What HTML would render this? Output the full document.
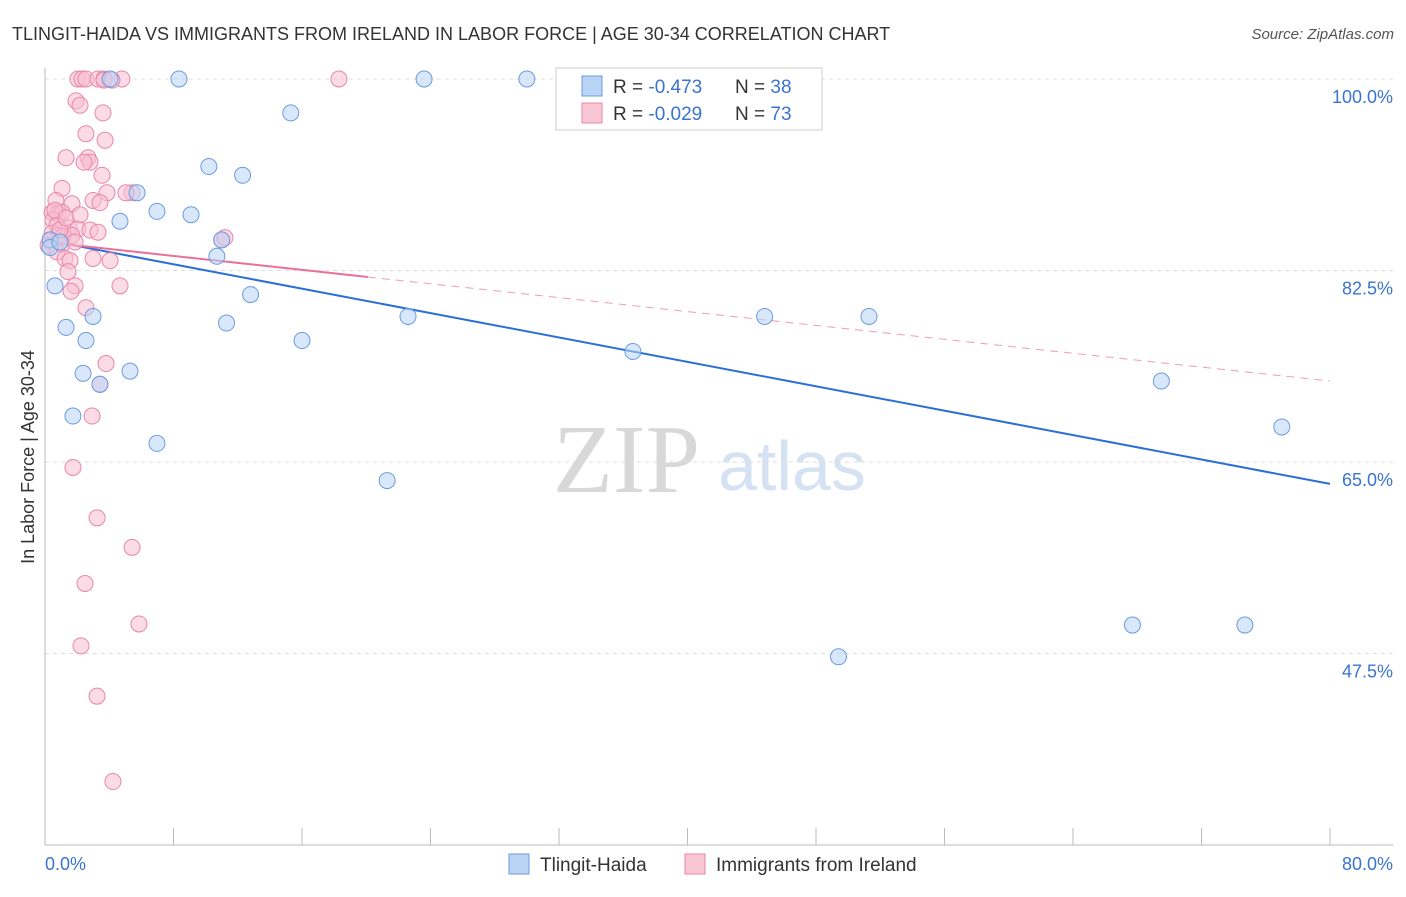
<!DOCTYPE html>
<html><head><meta charset="utf-8"><style>
body{margin:0;background:#fff;font-family:"Liberation Sans",sans-serif;}
</style></head><body>
<svg id="chart" width="1406" height="892" xmlns="http://www.w3.org/2000/svg">
<text x="12" y="40" font-size="18" fill="#333">TLINGIT-HAIDA VS IMMIGRANTS FROM IRELAND IN LABOR FORCE | AGE 30-34 CORRELATION CHART</text>
<text x="1394" y="39" font-size="15" fill="#555" font-style="italic" text-anchor="end">Source: ZipAtlas.com</text>
<g>
<text x="553" y="492" font-size="98" font-family="Liberation Serif,serif" fill="#d8d8d8">ZIP</text>
<text x="718" y="490" font-size="70" fill="#d5e2f3">atlas</text>
</g>
<g id="grid"></g>
<g id="axes"></g>
<g id="lines"></g>
<g id="pts"></g>
<text transform="translate(34,457) rotate(-90)" font-size="18" fill="#333" text-anchor="middle">In Labor Force | Age 30-34</text>
<text x="45" y="870" font-size="18" fill="#3a74d0">0.0%</text>
<text x="1393" y="870" font-size="18" fill="#3a74d0" text-anchor="end">80.0%</text>
<g>
<rect x="556" y="68" width="266" height="62" fill="#fff" stroke="#ccc"/>
<rect x="582" y="76" width="20" height="20" fill="#b9d3f5" stroke="#6a9be0"/>
<rect x="582" y="103" width="20" height="20" fill="#f9c6d6" stroke="#e887a7"/>
<text x="613" y="93" font-size="19" fill="#333">R = <tspan fill="#3a74d0">-0.473</tspan></text>
<text x="735" y="93" font-size="19" fill="#333">N = <tspan fill="#3a74d0">38</tspan></text>
<text x="613" y="120" font-size="19" fill="#333">R = <tspan fill="#3a74d0">-0.029</tspan></text>
<text x="735" y="120" font-size="19" fill="#333">N = <tspan fill="#3a74d0">73</tspan></text>
</g>
<g>
<rect x="509" y="854" width="20" height="20" fill="#b9d3f5" stroke="#6a9be0"/>
<text x="540" y="871" font-size="19" fill="#333">Tlingit-Haida</text>
<rect x="685" y="854" width="20" height="20" fill="#f9c6d6" stroke="#e887a7"/>
<text x="716" y="871" font-size="19" fill="#333">Immigrants from Ireland</text>
</g>
</svg>
<script>
const yTicks=[100,82.5,65,47.5];
const yTickLabels=["100.0%","82.5%","65.0%","47.5%"];
const xTicks=[0,10,20,30,40,50,60,70,80,90,100];
const blueX=[4.05,8.34,23.6,30.0,15.3,10.2,12.3,5.73,6.97,9.09,4.67,11.0,10.7,0.62,12.8,2.99,22.6,1.31,11.3,2.55,16.0,36.6,2.37,5.29,3.42,1.74,6.97,21.3,44.8,51.3,69.5,77.0,67.7,74.7,49.4,0.31,0.31,0.93];
const blueY=[100,100,100,100,96.9,92.0,91.2,89.6,87.9,87.6,87.0,85.3,83.8,81.1,80.3,78.3,78.3,77.3,77.7,76.1,76.1,75.1,73.1,73.3,72.1,69.2,66.7,63.3,78.3,78.3,72.4,68.2,50.1,50.1,47.2,85.3,84.6,85.1];
const pinkX=[2.05,2.30,2.55,3.30,3.67,4.79,18.3,1.93,2.18,3.61,2.55,3.74,1.31,2.68,2.80,2.43,3.55,1.06,5.42,3.86,5.04,0.68,2.99,1.68,3.42,0.44,0.81,1.06,0.50,0.75,1.49,2.05,2.80,3.30,0.44,0.87,1.12,1.68,0.31,1.06,1.87,11.0,11.2,0.75,1.25,1.56,2.99,4.05,1.43,1.87,4.67,1.62,2.55,3.80,3.42,2.93,1.74,3.24,5.42,2.49,5.85,2.24,3.24,4.23,0.62,0.93,0.19,1.31,2.18,3.67,4.17];
const pinkY=[100,100,100,100,100,100,100,98.0,97.6,96.9,95.0,94.4,92.8,92.8,92.4,92.4,91.2,90.0,89.6,89.6,89.6,88.9,88.9,88.6,88.7,87.8,87.7,87.8,87.1,86.6,86.4,86.3,86.2,86.0,85.9,85.7,85.6,85.7,85.2,84.9,85.1,85.3,85.5,84.2,83.6,83.4,83.6,83.4,82.4,81.1,81.1,80.6,79.1,74.0,72.1,69.2,64.5,59.9,57.2,53.9,50.2,48.2,43.6,35.8,88.0,86.2,84.8,87.3,87.6,99.9,99.9];
const blueTrend=[85.3,63.0];
const pinkTrend=[85.1,72.4];
const NS="http://www.w3.org/2000/svg";
const X=v=>45+v*16.0625, Y=v=>79+(100-v)*10.943;
function mk(t,a,p){const e=document.createElementNS(NS,t);for(const k in a)e.setAttribute(k,a[k]);document.getElementById(p).appendChild(e);return e;}
yTicks.forEach((t,i)=>{
 const l=mk('line',{x1:45,x2:1393,y1:Y(t),y2:Y(t),stroke:'#ddd','stroke-dasharray':'4,4'},'grid');
 
 
 const tx=mk('text',{x:1393,y:Y(t)+24,'font-size':18,fill:'#3a74d0','text-anchor':'end'},'grid');
 tx.textContent=yTickLabels[i];
 
 
});
let a=mk('line',{x1:45,x2:45,y1:68,y2:845,stroke:'#bbb'},'axes');


a=mk('line',{x1:45,x2:1393,y1:845,y2:845,stroke:'#bbb'},'axes');


xTicks.forEach(t=>{const px=X(t*0.8);if(px>1335)return;
 const l=mk('line',{x1:px,x2:px,y1:828,y2:845,stroke:'#bbb'},'axes');
 
 
});
function dot(x,y,f,s,n){const c=mk('circle',{cx:X(x),cy:Y(y),r:8,fill:f,'fill-opacity':0.55,stroke:s,'stroke-width':1},'pts');
 
 }
pinkX.forEach((x,i)=>dot(x,pinkY[i],'#f7bfd1','#e887a7','ireland-point'));
blueX.forEach((x,i)=>dot(x,blueY[i],'#b9d3f5','#6a9be0','tlingit-point'));
const pAt=x=>pinkTrend[0]+(pinkTrend[1]-pinkTrend[0])*x/80;
let l=mk('line',{x1:X(0),y1:Y(blueTrend[0]),x2:X(80),y2:Y(blueTrend[1]),stroke:'#2b6fd6','stroke-width':2},'lines');


l=mk('line',{x1:X(0),y1:Y(pAt(0)),x2:X(20.1),y2:Y(pAt(20.1)),stroke:'#e8709a','stroke-width':2},'lines');


l=mk('line',{x1:X(20.1),y1:Y(pAt(20.1)),x2:X(80),y2:Y(pAt(80)),stroke:'#e8709a','stroke-width':1,'stroke-dasharray':'8,6','stroke-opacity':0.7},'lines');


</script>
</body></html>
